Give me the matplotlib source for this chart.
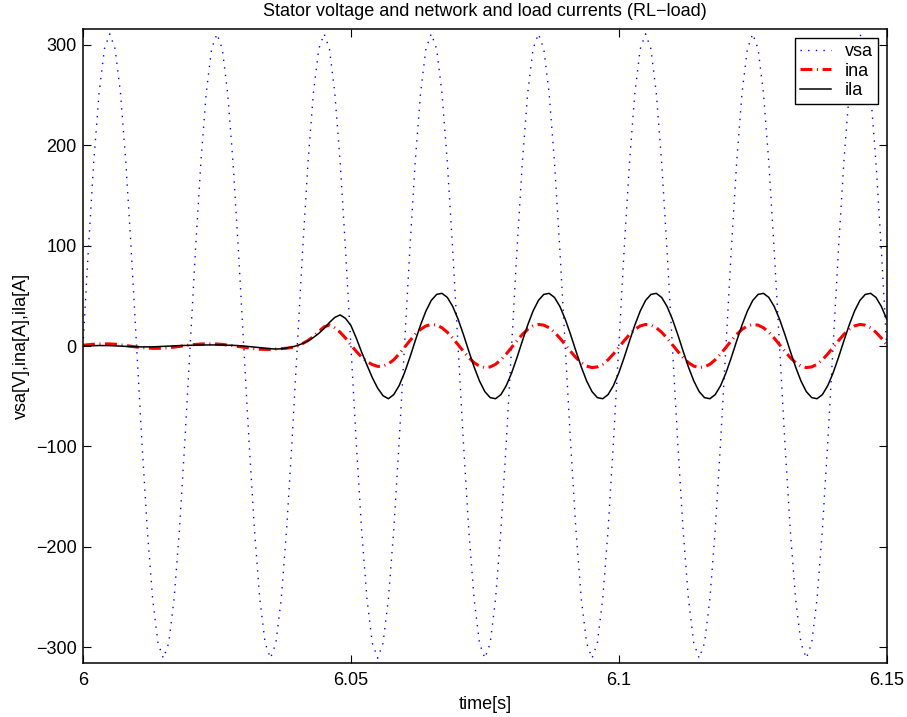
import numpy as np
import matplotlib
matplotlib.use('Agg')
import matplotlib.pyplot as plt

plt.rcParams['font.family'] = ['Liberation Sans', 'DejaVu Sans']
plt.rcParams['font.size'] = 13

# sampling grid, 1 ms steps from 6.000 s to 6.150 s
t = np.linspace(6.0, 6.15, 151)

# stator voltage [V] (one row = one 20 ms period)
vsa = [
    0, 96, 183, 252, 296, 311, 296, 252, 183, 96, 0, -96, -183, -252, -296, -311, -296, -252, -183, -96,
    0, 96, 183, 252, 296, 311, 296, 252, 183, 96, 0, -96, -183, -252, -296, -311, -296, -252, -183, -96,
    0, 96, 183, 252, 296, 311, 296, 252, 183, 96, 0, -96, -183, -252, -296, -311, -296, -252, -183, -96,
    0, 96, 183, 252, 296, 311, 296, 252, 183, 96, 0, -96, -183, -252, -296, -311, -296, -252, -183, -96,
    0, 96, 183, 252, 296, 311, 296, 252, 183, 96, 0, -96, -183, -252, -296, -311, -296, -252, -183, -96,
    0, 96, 183, 252, 296, 311, 296, 252, 183, 96, 0, -96, -183, -252, -296, -311, -296, -252, -183, -96,
    0, 96, 183, 252, 296, 311, 296, 252, 183, 96, 0, -96, -183, -252, -296, -311, -296, -252, -183, -96,
    0, 96, 183, 252, 296, 311, 296, 252, 183, 96, 0,
]

# network current [A]
ina = [
    0.8, 1.3, 1.8, 2.1, 2.2, 2.1, 1.8, 1.2, 0.5, -0.3, -1.0, -1.6, -2.0, -2.3, -2.3, -2.1, -1.7, -1.1, -0.4, 0.4,
    1.1, 1.6, 2.0, 2.2, 2.2, 2.0, 1.6, 1.0, 0.3, -0.5, -1.3, -2.0, -2.7, -3.2, -3.4, -3.3, -3.0, -2.6, -2.2, -1.4,
    0.0, 2.5, 5.5, 9.5, 14.5, 19.0, 21.0, 18.0, 13.7, 7.9, 1.0, -5.3, -11.0, -15.5, -18.5, -20.3, -20.0, -17.8, -13.7, -7.9,
    -1.4, 5.3, 11.5, 16.6, 20.0, 21.5, 20.8, 18.2, 13.7, 7.9, 1.4, -5.3, -11.5, -16.6, -20.0, -21.5, -20.8, -18.2, -13.7, -7.9,
    -1.4, 5.3, 11.5, 16.6, 20.0, 21.5, 20.8, 18.2, 13.7, 7.9, 1.4, -5.3, -11.5, -16.6, -20.0, -21.5, -20.8, -18.2, -13.7, -7.9,
    -1.4, 5.3, 11.5, 16.6, 20.0, 21.5, 20.8, 18.2, 13.7, 7.9, 1.4, -5.3, -11.5, -16.6, -20.0, -21.5, -20.8, -18.2, -13.7, -7.9,
    -1.4, 5.3, 11.5, 16.6, 20.0, 21.5, 20.8, 18.2, 13.7, 7.9, 1.4, -5.3, -11.5, -16.6, -20.0, -21.5, -20.8, -18.2, -13.7, -7.9,
    -1.4, 5.3, 11.5, 16.6, 20.0, 21.5, 20.8, 18.2, 13.7, 7.9, 1.4,
]

# load current [A]
ila = [
    0.0, 0.2, 0.4, 0.5, 0.5, 0.4, 0.2, -0.1, -0.4, -0.6, -0.8, -0.9, -0.9, -0.8, -0.6, -0.4, -0.1, 0.2, 0.4, 0.6,
    0.8, 0.9, 1.0, 1.1, 1.1, 1.1, 1.0, 0.9, 0.7, 0.4, 0.0, -0.5, -1.0, -1.6, -2.2, -2.7, -3.0, -2.8, -2.0, -1.0,
    0.5, 2.5, 5.0, 8.5, 12.5, 17.5, 23.5, 28.5, 31.0, 27.5, 20.5, 8.0, -6.0, -19.0, -31.5, -42.0, -49.5, -52.5, -48.4, -39.5,
    -26.8, -11.5, 5.0, 20.9, 34.8, 45.4, 51.4, 52.5, 48.4, 39.5, 26.8, 11.5, -5.0, -20.9, -34.8, -45.4, -51.4, -52.5, -48.4, -39.5,
    -26.8, -11.5, 5.0, 20.9, 34.8, 45.4, 51.4, 52.5, 48.4, 39.5, 26.8, 11.5, -5.0, -20.9, -34.8, -45.4, -51.4, -52.5, -48.4, -39.5,
    -26.8, -11.5, 5.0, 20.9, 34.8, 45.4, 51.4, 52.5, 48.4, 39.5, 26.8, 11.5, -5.0, -20.9, -34.8, -45.4, -51.4, -52.5, -48.4, -39.5,
    -26.8, -11.5, 5.0, 20.9, 34.8, 45.4, 51.4, 52.5, 48.4, 39.5, 26.8, 11.5, -5.0, -20.9, -34.8, -45.4, -51.4, -52.5, -48.4, -39.5,
    -26.8, -11.5, 5.0, 20.9, 34.8, 45.4, 51.4, 52.5, 48.4, 39.5, 26.8,
]

x_ticks = [6.0, 6.05, 6.1, 6.15]
x_labels = ['6', '6.05', '6.1', '6.15']
y_ticks = [-300, -200, -100, 0, 100, 200, 300]

fig = plt.figure(figsize=(9.07, 7.17), dpi=100)
ax = fig.add_axes([0.0915, 0.0757, 0.8861, 0.8834])

ax.plot(t, vsa, color='blue', lw=1.0, linestyle=(0, (1, 4.5)), label='vsa')
ax.plot(t, ina, color='red', lw=2.2, linestyle=(0, (3.9, 1.5, 0.33, 1.5)), label='ina')
ax.plot(t, ila, color='black', lw=1.1, label='ila')

ax.set_xlim(6.0, 6.15)
ax.set_ylim(-315.5, 315.5)
ax.set_xticks(x_ticks)
ax.set_xticklabels(x_labels)
ax.set_yticks(y_ticks)

ax.tick_params(direction='in', length=5.5, width=0.8, top=True, right=True, pad=7)
ax.tick_params(axis='y', pad=4.5)
for sp in ax.spines.values():
    sp.set_linewidth(1.1)

ax.set_xlabel('time[s]', labelpad=5)
ax.set_ylabel('vsa[V],ina[A],ila[A]', labelpad=4)
ax.set_title('Stator voltage and network and load currents (RL\u2212load)',
             fontsize=13, pad=9.5)

leg = ax.legend(loc='upper right', fancybox=False, framealpha=1, edgecolor='black',
                borderaxespad=0.5, handlelength=1.7, handletextpad=0.8,
                labelspacing=0.15, borderpad=0.25)
leg.get_frame().set_linewidth(1.0)

fig.savefig('out.png', dpi=100)
